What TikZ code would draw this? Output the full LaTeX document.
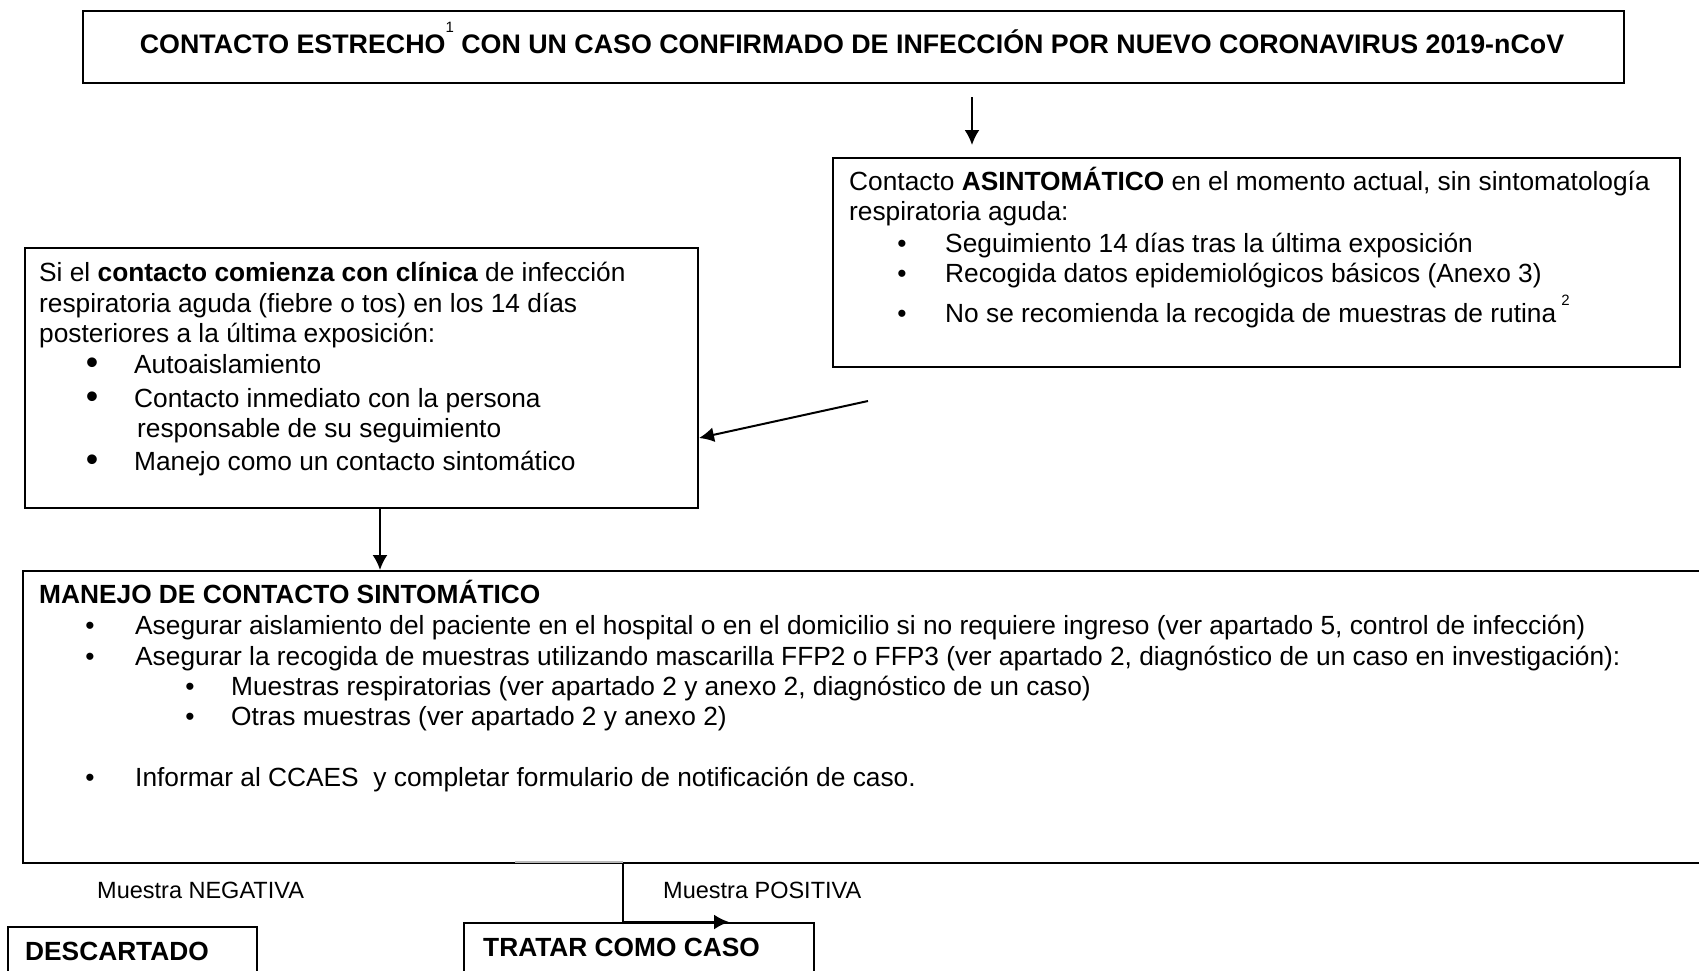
\documentclass[tikz,border=0pt]{standalone}
\usepackage{fontspec}
\setmainfont{Liberation Sans}
\usetikzlibrary{arrows.meta}
\tikzset{
  caja/.style={draw, line width=2pt, rectangle, inner sep=0pt, anchor=north west},
  linea/.style={anchor=base west, inner sep=0pt, font=\fontsize{26.3}{31}\selectfont},
  vineta/.style={anchor=base, inner sep=0pt, font=\fontsize{26.3}{31}\selectfont},
  etiqueta/.style={anchor=base west, inner sep=0pt, font=\fontsize{23.5}{28}\selectfont},
  flecha/.style={-{Latex[length=15pt,width=15pt]}, line width=2pt}
}
\newcommand{\nota}[2]{\raisebox{#1}{\fontsize{15}{15}\selectfont\mdseries #2}}
\begin{document}
\begin{tikzpicture}[x=1pt, y=-1pt]
\useasboundingbox [fill=white] (0, 0) rectangle (1699, 970);

\node (cab) at (82, 10) [caja, minimum width=1541, minimum height=72] {};
\node (titulo) at (852, 53) [linea, anchor=base, font=\fontsize{26.8}{31}\selectfont] {\textbf{CONTACTO ESTRECHO\nota{21pt}{1} CON UN CASO CONFIRMADO DE INFECCIÓN POR NUEVO CORONAVIRUS 2019-nCoV}};

\node (asin) at (832, 157) [caja, minimum width=847, minimum height=209] {};
\node (asin1) at (849, 190) [linea] {Contacto \textbf{ASINTOMÁTICO} en el momento actual, sin sintomatología};
\node (asin2) at (849, 220) [linea] {respiratoria aguda:};
\node (asinb1) at (902, 252) [vineta] {\textbullet};
\node (asinb2) at (902, 282) [vineta] {\textbullet};
\node (asinb3) at (902, 322) [vineta] {\textbullet};
\node (asin3) at (945, 252) [linea] {Seguimiento 14 días tras la última exposición};
\node (asin4) at (945, 282) [linea] {Recogida datos epidemiológicos básicos (Anexo 3)};
\node (asin5) at (945, 322) [linea] {No se recomienda la recogida de muestras de rutina\hspace{5pt}\nota{17pt}{2}};

\node (clin) at (24, 247) [caja, minimum width=673, minimum height=260] {};
\node (clin1) at (39, 281) [linea] {Si el \textbf{contacto comienza con clínica} de infección};
\node (clin2) at (39, 312) [linea] {respiratoria aguda (fiebre o tos) en los 14 días};
\node (clin3) at (39, 342) [linea] {posteriores a la última exposición:};
\node (clinb1) at (92, 373) [vineta] {\raisebox{-1pt}{\scalebox{1.35}{\textbullet}}};
\node (clinb2) at (92, 407) [vineta] {\raisebox{-1pt}{\scalebox{1.35}{\textbullet}}};
\node (clinb3) at (92, 470) [vineta] {\raisebox{-1pt}{\scalebox{1.35}{\textbullet}}};
\node (clin4) at (134, 373) [linea] {Autoaislamiento};
\node (clin5) at (134, 407) [linea] {Contacto inmediato con la persona};
\node (clin6) at (137, 437) [linea] {responsable de su seguimiento};
\node (clin7) at (134, 470) [linea] {Manejo como un contacto sintomático};

\node (manejo) at (22, 570) [caja, minimum width=1690, minimum height=292] {};
\node (man0) at (39, 603) [linea] {\textbf{MANEJO DE CONTACTO SINTOMÁTICO}};
\node (manb1) at (90, 634) [vineta] {\textbullet};
\node (manb2) at (90, 665) [vineta] {\textbullet};
\node (manb3) at (190, 695) [vineta] {\textbullet};
\node (manb4) at (190, 725) [vineta] {\textbullet};
\node (manb5) at (90, 786) [vineta] {\textbullet};
\node (man1) at (135, 634) [linea] {Asegurar aislamiento del paciente en el hospital o en el domicilio si no requiere ingreso (ver apartado 5, control de infección)};
\node (man2) at (135, 665) [linea] {Asegurar la recogida de muestras utilizando mascarilla FFP2 o FFP3 (ver apartado 2, diagnóstico de un caso en investigación):};
\node (man3) at (231, 695) [linea] {Muestras respiratorias (ver apartado 2 y anexo 2, diagnóstico de un caso)};
\node (man4) at (231, 725) [linea] {Otras muestras (ver apartado 2 y anexo 2)};
\node (man5) at (135, 786) [linea] {Informar al CCAES\ \ y completar formulario de notificación de caso.};

\node (neg) at (97, 898) [etiqueta] {Muestra NEGATIVA};
\node (pos) at (663, 898) [etiqueta] {Muestra POSITIVA};

\node (desc) at (7, 926) [caja, minimum width=249, minimum height=90] {};
\node (desc1) at (25, 960) [linea] {\textbf{DESCARTADO}};
\node (tratar) at (463, 922) [caja, minimum width=350, minimum height=90] {};
\node (tratar1) at (483, 956) [linea] {\textbf{TRATAR COMO CASO}};

\coordinate (bajada) at (972, 0);
\coordinate (asinCola) at (868, 401);
\coordinate (bajada2) at (380, 0);
\coordinate (rama) at (623, 0);
\coordinate (gris) at (515, 0);
\coordinate (posFin) at (729, 922);

\draw [flecha, shorten <=13pt, shorten >=12pt] (cab.south -| bajada) -- (asin.north -| bajada);
\draw [flecha] (asinCola) -- ([yshift=-60pt]clin.east);
\draw [flecha] (clin.south -| bajada2) -- (manejo.north -| bajada2);
\draw [gray!55, line width=2pt] ([yshift=2pt]manejo.south -| gris) -- ([yshift=2pt]manejo.south -| rama);
\draw [flecha] (manejo.south -| rama) |- (posFin);
\end{tikzpicture}
\end{document}
